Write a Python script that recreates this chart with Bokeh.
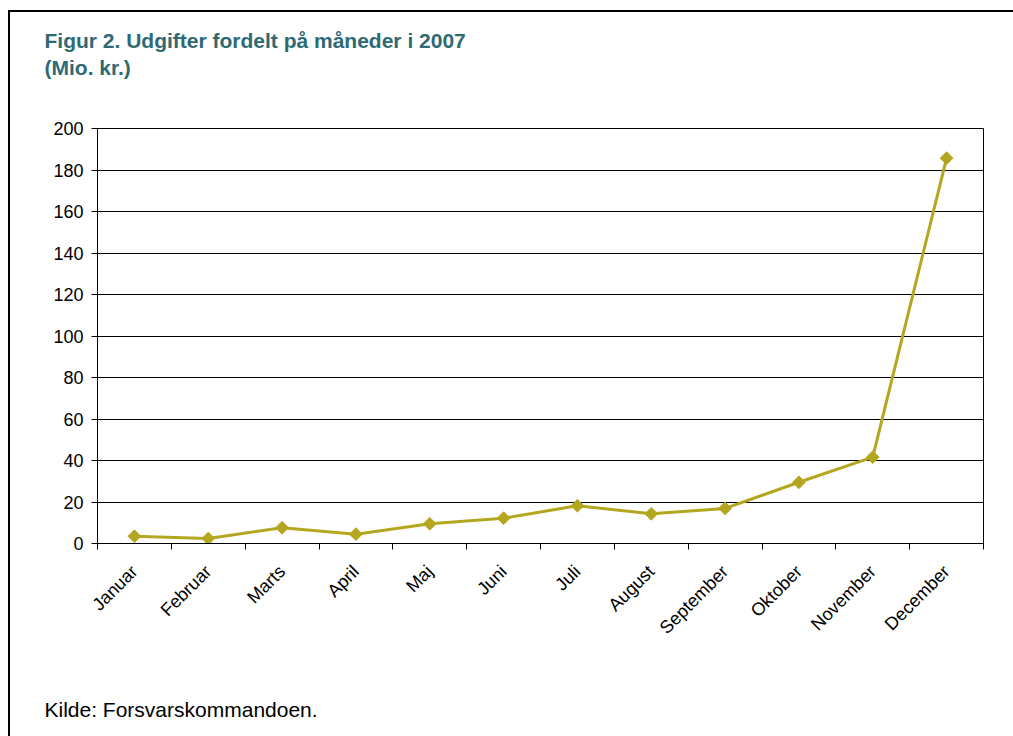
import math
from bokeh.plotting import figure
from bokeh.models import (ColumnDataSource, Range1d, LinearAxis, FixedTicker,
                          Title, Grid, InlineStyleSheet)
from bokeh.embed import file_html
from bokeh.resources import INLINE

months = ["Januar", "Februar", "Marts", "April", "Maj", "Juni", "Juli",
          "August", "September", "Oktober", "November", "December"]
values = [3.5, 2.4, 7.6, 4.5, 9.5, 12.2, 18.2, 14.3, 16.9, 29.5, 41.6, 185.7]
y_ticks = [0, 20, 40, 60, 80, 100, 120, 140, 160, 180, 200]
title_lines = ["Figur 2. Udgifter fordelt på måneder i 2007", "(Mio. kr.)"]
source_text = "Kilde: Forsvarskommandoen."

positions = [i + 0.5 for i in range(len(months))]
src = ColumnDataSource(dict(x=positions, y=values))

FONT = "Liberation Sans"
LINE_COLOR = "#B5A620"
TITLE_COLOR = "#2E6A74"

p = figure(width=1013, height=736, output_backend="svg", toolbar_location=None,
           x_range=Range1d(0, len(months)), y_range=Range1d(0, 200),
           x_axis_type=None, y_axis_type=None,
           min_border_left=97, min_border_right=30, min_border_top=128,
           min_border_bottom=193)
p.outline_line_color = "black"
p.outline_line_width = 1
p.background_fill_color = "white"
p.border_fill_color = "white"

# y axis
yaxis = LinearAxis(ticker=FixedTicker(ticks=y_ticks, minor_ticks=[]))
yaxis.axis_line_color = "black"
yaxis.major_tick_line_color = "black"
yaxis.major_tick_out = 6
yaxis.major_tick_in = 0
yaxis.minor_tick_line_color = None
yaxis.major_label_standoff = 8
yaxis.major_label_text_font = FONT
yaxis.major_label_text_font_size = "18px"
yaxis.major_label_text_color = "black"
p.add_layout(yaxis, "left")

# x axis: labels at category centres, tick marks at category boundaries
xaxis = LinearAxis(ticker=FixedTicker(ticks=positions,
                                      minor_ticks=list(range(len(months) + 1))))
xaxis.major_label_overrides = {pos: m for pos, m in zip(positions, months)}
xaxis.axis_line_color = "black"
xaxis.major_tick_out = 0
xaxis.major_tick_in = 0
xaxis.major_tick_line_color = None
xaxis.minor_tick_line_color = "black"
xaxis.minor_tick_out = 6
xaxis.minor_tick_in = 0
xaxis.major_label_orientation = math.pi / 4
xaxis.major_label_standoff = 19
xaxis.major_label_text_font = FONT
xaxis.major_label_text_font_size = "18px"
xaxis.major_label_text_color = "black"
p.add_layout(xaxis, "below")

p.ygrid.grid_line_color = None
p.xgrid.grid_line_color = None
p.add_layout(Grid(dimension=1, ticker=yaxis.ticker, grid_line_color="black",
                  grid_line_width=1))

p.line("x", "y", source=src, line_color=LINE_COLOR, line_width=3)
p.scatter("x", "y", source=src, marker="square", angle=math.pi / 4, size=9,
          fill_color=LINE_COLOR, line_color=LINE_COLOR)

# title block (spacer keeps it away from the plot frame)
p.add_layout(Title(text=" ", standoff=46, text_font_size="1px"), "above")
p.add_layout(Title(text="\n".join(title_lines), align="left", offset=-53,
                   standoff=0, vertical_align="bottom", text_font=FONT,
                   text_font_size="21px", text_font_style="bold",
                   text_color=TITLE_COLOR, text_line_height=1.2), "above")

# source note below the month labels
p.add_layout(Title(text=" ", standoff=47, text_font_size="1px"), "below")
p.add_layout(Title(text=source_text, align="left", offset=-53, standoff=0,
                   vertical_align="top", text_font=FONT, text_font_size="21px",
                   text_font_style="normal", text_color="black"), "below")

p.stylesheets = [InlineStyleSheet(css="""
:host { position: relative; }
:host::after { content: ""; position: absolute; top: 10px; left: 8px; right: 0;
  bottom: 0; border-top: 2px solid black; border-left: 2px solid black;
  pointer-events: none; }
""")]

open("out.html", "w").write(file_html(p, INLINE))
